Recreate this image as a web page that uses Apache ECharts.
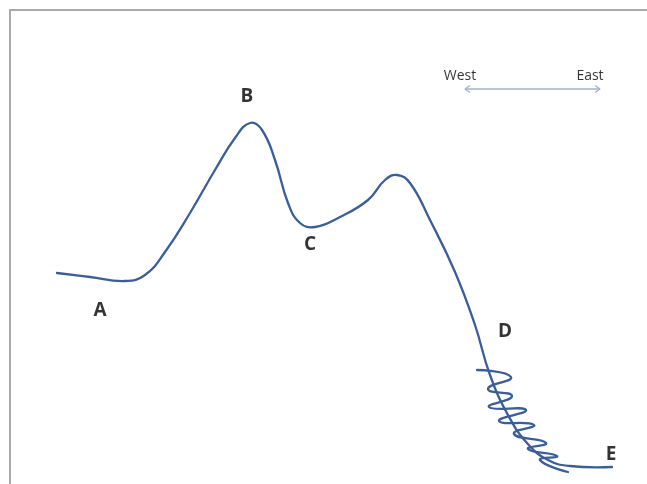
<!DOCTYPE html>
<html>
<head>
<meta charset="utf-8">
<script src="https://cdn.jsdelivr.net/npm/echarts@6/dist/echarts.min.js"></script>
<style>html,body{margin:0;padding:0;background:#fff}#c{width:647px;height:484px}</style>
</head>
<body>
<div id="c"></div>
<script>
// Profile curve (x, depth) in sketch units
var profileX = [57,90,125,145,165,190,215,235,250,262,275,288,300,315,340,368,385,397,410,430,455,475,490,508,527,548,570,612];
var profileY = [273,277,281,275,252,213,170,138,123,130,160,203,223,227,217,200,180,175,183,220,272,325,375,415,443,460,466,467];
// Squiggle near D
var squiggleX = [477,511,488,512,489,526,499,534,514,546,528,557,540,568];
var squiggleY = [370,377,389,396,407,410,421,425,434,443,449,456,460,472];
// Point labels
var labelNames = ['A','B','C','D','E'];
var labelX = [100,247,310,505,611];
var labelY = [311,97,245,332,455];
// Direction arrow
var dirNames = ['West','East'];
var dirX = [460,590];
var dirY = [76,76];
var arrowX = [465,600];
var arrowY = 89;

function zip(xs, ys){ return xs.map(function(x,i){ return [x, ys[i]]; }); }

function curveSeries(xs, ys, color, width, smooth){
  var pts = zip(xs, ys);
  return {
    type: 'custom', silent: true, clip: false,
    data: pts,
    encode: {x: 0, y: 1},
    renderItem: function(params, api){
      if (params.dataIndex !== 0) return null;
      var p = pts.map(function(d){ return api.coord(d); });
      return {type: 'polyline', shape: {points: p, smooth: smooth},
              style: {fill: null, stroke: color, lineWidth: width, lineJoin: 'round', lineCap: 'round'}};
    }
  };
}

var chart = echarts.init(document.getElementById('c'));
var blue = '#3a5e9b';
var arrowColor = '#9db3d4';
chart.setOption({
  animation: false,
  grid: {left: 0, right: 0, top: 0, bottom: 0},
  xAxis: {type: 'value', min: 0, max: 647, show: false},
  yAxis: {type: 'value', min: 0, max: 484, inverse: true, show: false},
  graphic: [
    {type: 'line', shape: {x1: 9, y1: 10, x2: 647, y2: 10}, style: {stroke: '#ababab', lineWidth: 2}},
    {type: 'line', shape: {x1: 10, y1: 10, x2: 10, y2: 484}, style: {stroke: '#ababab', lineWidth: 2}}
  ],
  series: [
    curveSeries(profileX, profileY, blue, 2.3, 0.45),
    curveSeries(squiggleX, squiggleY, blue, 2.3, 0.6),
    {type: 'line', data: [[arrowX[0], arrowY],[arrowX[1], arrowY]], symbol: 'none',
     lineStyle: {color: arrowColor, width: 1.3}},
    {type: 'line', data: [[arrowX[0]+5, arrowY-3.5],[arrowX[0], arrowY],[arrowX[0]+5, arrowY+3.5]], symbol: 'none',
     lineStyle: {color: arrowColor, width: 1.3}},
    {type: 'line', data: [[arrowX[1]-5, arrowY-3.5],[arrowX[1], arrowY],[arrowX[1]-5, arrowY+3.5]], symbol: 'none',
     lineStyle: {color: arrowColor, width: 1.3}},
    {type: 'scatter', symbolSize: 0, silent: true,
     data: labelNames.map(function(n,i){ return {name: n, value: [labelX[i], labelY[i]]}; }),
     label: {show: true, position: 'inside', formatter: '{b}', color: '#000',
             fontFamily: 'Open Sans', fontWeight: 'bold', fontSize: 19}},
    {type: 'scatter', symbolSize: 0, silent: true,
     data: dirNames.map(function(n,i){ return {name: n, value: [dirX[i], dirY[i]]}; }),
     label: {show: true, position: 'inside', formatter: '{b}', color: '#000',
             fontFamily: 'Open Sans', fontSize: 14}}
  ]
});
</script>
</body>
</html>
